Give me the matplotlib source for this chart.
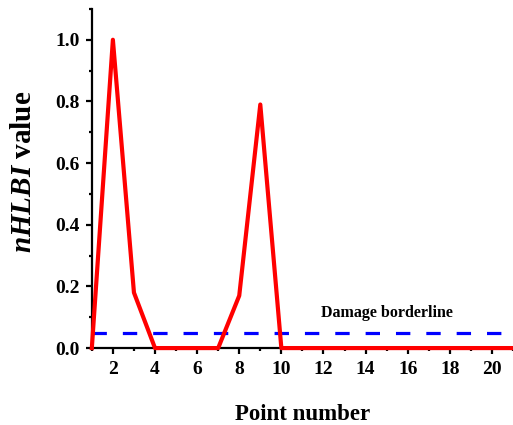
import matplotlib
matplotlib.use("Agg")
import matplotlib.pyplot as plt
from matplotlib.ticker import MultipleLocator

point = list(range(1, 22))
nhlbi = [0.0, 1.0, 0.18, 0.0, 0.0, 0.0, 0.0, 0.17, 0.79, 0.0,
         0.0, 0.0, 0.0, 0.0, 0.0, 0.0, 0.0, 0.0, 0.0, 0.0, 0.0]
borderline = 0.05
x_ticks = [2, 4, 6, 8, 10, 12, 14, 16, 18, 20]
y_ticks = [0.0, 0.2, 0.4, 0.6, 0.8, 1.0]

plt.rcParams['font.family'] = ['Liberation Serif', 'DejaVu Serif']
plt.rcParams['font.weight'] = 'bold'
plt.rcParams['mathtext.fontset'] = 'custom'
plt.rcParams['mathtext.it'] = 'Liberation Serif:italic:bold'
plt.rcParams['mathtext.rm'] = 'Liberation Serif:bold'
plt.rcParams['mathtext.bf'] = 'Liberation Serif:bold'

fig = plt.figure(figsize=(5.13, 4.25), dpi=100)
ax = fig.add_axes([0.179, 0.181, 0.821, 0.798])

ax.plot(point, nhlbi, color='#ff0000', lw=3.0, solid_joinstyle='round', clip_on=False, zorder=3)
ax.axhline(borderline, color='#0000ff', lw=2.3, dashes=(4.5, 5), zorder=2)
ax.text(15.0, 0.115, 'Damage borderline', fontsize=11.5, fontweight='bold', ha='center', va='center')

ax.set_xlim(1, 21)
ax.set_ylim(0, 1.1)
ax.set_xticks(x_ticks)
ax.set_yticks(y_ticks)
ax.set_yticklabels([f'{v:.1f}' for v in y_ticks])
ax.xaxis.set_minor_locator(MultipleLocator(1))
ax.yaxis.set_minor_locator(MultipleLocator(0.1))

for s in ['top', 'right']:
    ax.spines[s].set_visible(False)
for s in ['left', 'bottom']:
    ax.spines[s].set_linewidth(1.6)

ax.tick_params(which='major', direction='out', length=4, width=1.6, labelsize=14, pad=5)
ax.tick_params(which='minor', direction='out', length=2.5, width=1.6)
for lab in ax.get_xticklabels() + ax.get_yticklabels():
    lab.set_fontweight('bold')

ax.set_xlabel('Point number', fontsize=16.5, fontweight='bold', labelpad=19)
ax.set_ylabel(r'$\mathit{nHLBI}$ value', fontsize=21, fontweight='bold')
ax.yaxis.set_label_coords(-0.13, 0.52)

fig.savefig('out.png', dpi=100)
